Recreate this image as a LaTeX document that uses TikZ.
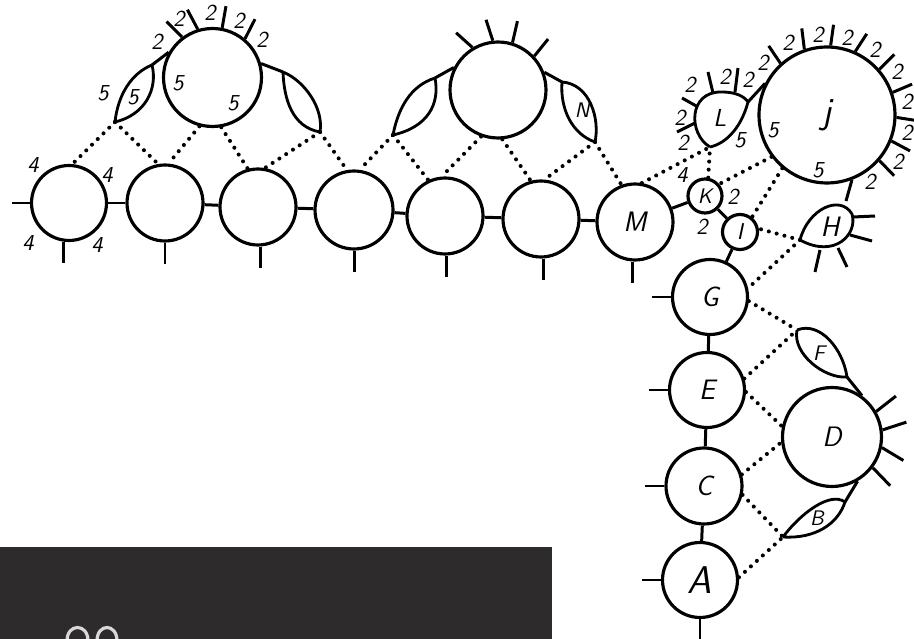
\documentclass[tikz,border=0pt]{standalone}
\usepackage{tikz}
\definecolor{slate}{RGB}{45,43,44}
\tikzset{
  ring/.style={draw, circle, line width=1.8pt, inner sep=0pt, font=\sffamily\slshape\fontsize{16}{16}\selectfont},
  leaf/.style={line width=1.6pt},
  spoke/.style={line width=1.7pt},
  dots/.style={line width=2.3pt, line cap=round, dash pattern=on 0pt off 4.6pt},
  num/.style={font=\sffamily\slshape\fontsize{13}{13}\selectfont, inner sep=0pt}
}
\begin{document}
\begin{tikzpicture}[x=0.02cm,y=0.02cm]
  \useasboundingbox (0,0) rectangle (914,639);
  \fill[slate] (0,0) rectangle (552,92);
  \draw[white!85!black, line width=1.8pt] (67,-2) .. controls (67,16) and (88,16) .. (88,-2);
  \draw[white!85!black, line width=1.8pt] (97,-2) .. controls (97,16) and (117,16) .. (117,-2);

  \node[ring, minimum size=1.5cm] (c1) at (69,436) {};
  \node[ring, minimum size=1.52cm] (c2) at (165,436) {};
  \node[ring, minimum size=1.52cm] (c3) at (258,432) {};
  \node[ring, minimum size=1.56cm] (c4) at (354,429) {};
  \node[ring, minimum size=1.52cm] (c5) at (445,423) {};
  \node[ring, minimum size=1.52cm] (c6) at (541,420) {};
  \node[ring, minimum size=1.52cm] (M) at (635,417) {M};
  \foreach \a/\b in {c1/c2,c2/c3,c3/c4,c4/c5,c5/c6,c6/M}
    \draw[spoke] (\a) -- (\b);
  \foreach \n/\a in {c1/-98,c2/-90,c3/-87,c4/-89,c5/-88,c6/-87,M/-93}
    \draw[spoke] (\n.\a) -- ++(0,-21);
  \draw[spoke] (c1.west) -- ++(-18,0);
  \foreach \x/\y [count=\i] in {33/474,107/464,28/396,97/394}
    \node[num] (q\i) at (\x,\y) {4};

  \node[ring, minimum size=1.96cm] (F1) at (212.5,561.5) {};
  \foreach \a/\d in {127/135,107/118,79/80,50/63}
    \draw[spoke] (F1.\a) -- ++(\d:22);
  \foreach \x/\y [count=\i] in {157/597,179/620,210/626,239/618,262/599}
    \node[num] (t\i) at (\x,\y) {2};
  \foreach \x/\y [count=\i] in {178/556,233/536,103/546,133/542}
    \node[num] (v\i) at (\x,\y) {5};
  \coordinate (p1t) at (152,574);
  \coordinate (p1b) at (115,517);
  \draw[spoke] (F1.150) -- (p1t);
  \draw[leaf] (p1t) .. controls (132,566) and (118,545) .. (p1b) .. controls (145,524) and (158,550) .. (p1t);
  \coordinate (p2t) at (283,567);
  \coordinate (p2b) at (320,507);
  \draw[spoke] (F1.16) -- (p2t);
  \draw[leaf] (p2t) .. controls (284,540) and (292,512) .. (p2b) .. controls (324,530) and (305,558) .. (p2t);

  \node[ring, minimum size=1.92cm] (F2) at (498,549) {};
  \foreach \a/\d in {121/138,96/108,73/77,43/51}
    \draw[spoke] (F2.\a) -- ++(\d:22);
  \coordinate (p3t) at (435,561);
  \coordinate (p3b) at (393,504);
  \draw[spoke] (F2.153) -- (p3t);
  \draw[leaf] (p3t) .. controls (410,553) and (398,530) .. (p3b) .. controls (428,512) and (440,535) .. (p3t);
  \coordinate (p4t) at (562,557);
  \coordinate (p4b) at (595,497);
  \draw[spoke] (F2.21) -- (p4t);
  \draw[leaf] (p4t) .. controls (560,530) and (572,505) .. (p4b) .. controls (600,520) and (590,555) .. (p4t);
  \node[num, font=\sffamily\slshape\fontsize{12}{12}\selectfont] (N) at (582,529) {N};

  \draw[dots] (p1b) -- (c1.85);
  \draw[dots] (p1b) -- (c2.100);
  \draw[dots] (F1.-105) -- (c2.85);
  \draw[dots] (F1.-80) -- (c3.105);
  \draw[dots] (p2b) -- (c3.80);
  \draw[dots] (p2b) -- (c4.100);
  \draw[dots] (p3b) -- (c4.82);
  \draw[dots] (p3b) -- (c5.115);
  \draw[dots] (F2.-110) -- (c5.95);
  \draw[dots] (F2.-85) -- (c6.105);
  \draw[dots] (p4b) -- (c6.85);
  \draw[dots] (p4b) -- (M.110);

  \node[ring, minimum size=0.68cm, font=\sffamily\slshape\fontsize{12}{12}\selectfont] (K) at (705,443) {K};
  \node[ring, minimum size=0.7cm, font=\sffamily\slshape\fontsize{13}{13}\selectfont] (I) at (740,407) {I};
  \node[ring, minimum size=1.5cm] (G) at (710,342) {G};
  \node[ring, minimum size=1.5cm] (E) at (707,249) {E};
  \node[ring, minimum size=1.52cm] (C) at (704,153) {C};
  \node[ring, minimum size=1.5cm, font=\sffamily\slshape\fontsize{22}{22}\selectfont] (A) at (700,59) {A};
  \draw[spoke] (M) -- (K);
  \draw[spoke] (K) -- (I);
  \draw[spoke] (I) -- (G);
  \foreach \a/\b in {G/E,E/C,C/A}
    \draw[spoke] (\a) -- (\b);
  \draw[spoke] (A.south) -- ++(0,-20);
  \foreach \n in {G,E,C,A}
    \draw[spoke] (\n.west) -- ++(-19,0);
  \node[num] (k1) at (682,464) {4};
  \node[num] (k2) at (733,442) {2};
  \node[num] (k3) at (702,412) {2};

  \coordinate (Lb) at (710,492);
  \coordinate (Lr) at (748,537);
  \draw[leaf] (Lb) .. controls (688,505) and (688,548) .. (722,547) .. controls (735,547) and (744,543) .. (Lr) .. controls (742,514) and (728,496) .. (Lb);
  \node[num, font=\sffamily\slshape\fontsize{14}{14}\selectfont] (Ltxt) at (720,521) {L};
  \draw[spoke] (713,546) -- (708,567);
  \draw[spoke] (735,547) -- (738,571);
  \draw[spoke] (698,532) -- (682,541);
  \draw[spoke] (695,516) -- (677,507);
  \foreach \x/\y [count=\i] in {690/554,725/562,748/559,680/521,683/496}
    \node[num] (l\i) at (\x,\y) {2};
  \node[num] (l6) at (740,499) {5};

  \node[ring, minimum size=2.72cm, font=\sffamily\slshape\fontsize{21}{21}\selectfont] (J) at (827,524) {j};
  \draw[spoke] (Lr) -- (J.153);
  \foreach \a/\d in {132/124,109/97,87/82,66/57,41/45,19/23,-2/-9,-22/-28,-41/-46}
    \draw[spoke] (J.\a) -- ++(\d:21);
  \foreach \x/\y [count=\i] in {763/576,788/596,818/604,847/601,875/589,897/567,907/537,907/506,898/477,870/457}
    \node[num] (j\i) at (\x,\y) {2};
  \node[num] (j11) at (773,509) {5};
  \node[num] (j12) at (818,469) {5};

  \coordinate (Ht) at (800,399);
  \coordinate (Hs) at (846,438);
  \draw[spoke] (J.-69) -- (Hs);
  \draw[leaf] (Ht) .. controls (808,430) and (840,445) .. (852,425) .. controls (858,405) and (835,380) .. (Ht);
  \node[num, font=\sffamily\slshape\fontsize{16}{16}\selectfont] (Htxt) at (830,412) {H};
  \draw[spoke] (853,422) -- (875,423);
  \draw[spoke] (850,404) -- (872,398);
  \draw[spoke] (838,391) -- (847,372);
  \draw[spoke] (820,389) -- (815,367);

  \node[ring, minimum size=1.98cm] (D) at (832,202) {D};
  \foreach \a/\d in {30/38,8/18,-12/-31,-37/-46}
    \draw[spoke] (D.\a) -- ++(\d:25);
  \coordinate (Ft) at (797,309);
  \coordinate (Fe) at (847,262);
  \draw[leaf] (Ft) .. controls (820,318) and (843,290) .. (Fe) .. controls (825,260) and (792,285) .. (Ft);
  \draw[spoke] (Fe) -- (D.54);
  \node[num, font=\sffamily\slshape\fontsize{12}{12}\selectfont] (Ftxt) at (819,286) {F};
  \coordinate (Bt) at (783,102);
  \coordinate (Be) at (845,137);
  \draw[leaf] (Bt) .. controls (800,125) and (830,148) .. (Be) .. controls (838,115) and (815,100) .. (Bt);
  \draw[spoke] (Be) -- (D.-60);
  \node[num, font=\sffamily\slshape\fontsize{12}{12}\selectfont] (Btxt) at (817,121) {B};

  \draw[dots] (M.80) -- (Lb);
  \draw[dots] (K.80) -- (Lb);
  \draw[dots] (J.217) -- (K.40);
  \draw[dots] (J.230) -- (I.51);
  \draw[dots] (Ht) -- (I.10);
  \draw[dots] (Ht) -- (G.13);
  \draw[dots] (G.-6) -- (Ft);
  \draw[dots] (E.17) -- (Ft);
  \draw[dots] (E.-3) -- (D.168);
  \draw[dots] (C.17) -- (D.186);
  \draw[dots] (C.-13) -- (Bt);
  \draw[dots] (A.4) -- (Bt);
\end{tikzpicture}
\end{document}
